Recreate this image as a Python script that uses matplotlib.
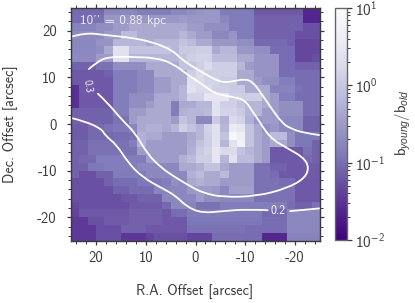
import numpy as np
import matplotlib
matplotlib.use("Agg")
import matplotlib.pyplot as plt
from matplotlib.colors import LogNorm
from matplotlib.cm import ScalarMappable
from matplotlib.path import Path
from matplotlib.patches import PathPatch

plt.rcParams.update({
    'font.family': ['cmss10', 'DejaVu Sans'],
    'axes.unicode_minus': False,
    'mathtext.fontset': 'custom',
    'mathtext.rm': 'cmss10',
    'mathtext.it': 'Liberation Sans:italic',
    'mathtext.bf': 'cmss10',
    'mathtext.fallback': 'cm',
})

ratio_rows = [
 [.09,.09,.09,.09,.18,.18,.18,.18,.14,.14,.14,.14,.18,.18,.22,.26,.28,.28,.13,.13,.13,.13,.065,.065,.065,.065,.065,.065,.023,.023],
 [.098,.098,.11,.11,.28,.28,.28,.28,.28,.28,.28,.28,.28,.32,.28,.28,.28,.28,.18,.13,.13,.13,.079,.079,.079,.079,.079,.079,.023,.023],
 [.16,.16,.16,.22,.22,.32,.32,.45,.45,.45,.45,.45,.45,.45,.32,.32,.22,.22,.22,.13,.13,.13,.079,.079,.079,.079,.079,.079,.056,.056],
 [.195,.195,.195,.195,.32,.32,.72,.72,.45,.45,.45,.45,.45,.63,.45,.32,.32,.18,.18,.26,.13,.13,.079,.079,.079,.079,.079,.056,.056,.056],
 [.18,.18,.18,.26,.26,.63,.63,.63,.63,.45,.63,.63,.63,.89,.72,.45,.45,.28,.28,.28,.22,.22,.09,.09,.09,.09,.079,.046,.046,.046],
 [.18,.18,.18,.22,.45,2.5,2.5,.89,.89,.89,.89,.89,.63,1.1,1.1,1.26,1.26,.45,.63,.63,.28,.28,.22,.22,.098,.098,.098,.046,.046,.046],
 [.195,.195,.195,.32,.32,2.5,2.5,.63,.63,.63,.63,.63,.63,.89,1.26,1.45,1.45,.72,.72,.72,.45,.45,.26,.26,.26,.098,.098,.046,.046,.056],
 [.079,.079,.079,.11,.11,.22,.22,.22,.22,.45,.45,.45,.45,.89,.89,1.26,1.78,1.26,1.26,1.26,.63,.32,.26,.26,.26,.098,.098,.079,.079,.079],
 [.065,.065,.065,.065,.079,.14,.14,.14,.18,.18,.45,.45,.45,.45,1.26,1.78,1.26,1.26,1.26,1.26,.45,.45,.26,.26,.26,.098,.098,.098,.098,.098],
 [.065,.065,.065,.065,.065,.14,.14,.14,.18,.18,.32,.32,.45,.45,2.2,1.78,1.45,1.45,1.1,1.1,.45,.45,.32,.22,.22,.14,.14,.098,.098,.098],
 [.028,.065,.065,.065,.065,.14,.14,.14,.18,.18,.32,.32,.45,.63,2.5,1.78,1.78,1.26,1.26,1.1,1.1,.45,.45,.45,.16,.16,.16,.11,.098,.098],
 [.028,.065,.065,.065,.065,.14,.14,.22,.22,.22,.45,.45,.45,.63,1.45,1.45,2.9,2.9,2.9,1.26,1.26,1.26,1.26,.45,.32,.14,.14,.098,.098,.098],
 [.028,.065,.065,.065,.065,.14,.14,.22,.22,.32,.45,.45,.14,.45,.45,.63,.63,2.5,1.26,1.26,.89,.63,.63,.45,.32,.22,.22,.22,.098,.098],
 [.079,.079,.079,.079,.079,.14,.14,.32,.32,.45,.45,.45,.14,.55,.63,.63,.72,2.5,1.45,1.45,1.1,.63,.63,.32,.32,.22,.22,.22,.098,.098],
 [.079,.079,.079,.079,.079,.11,.11,.32,.45,.45,.45,.45,.32,.89,.63,.18,.18,1.1,.55,1.78,1.45,.55,.28,.32,.32,.18,.18,.18,.079,.079],
 [.069,.069,.09,.09,.11,.12,.12,.18,.45,.55,.55,.45,.63,1.26,.89,.63,1.45,2.5,.63,3.5,2.9,.89,.45,.22,.28,.18,.18,.18,.079,.079],
 [.069,.069,.09,.09,.09,.098,.098,.11,.55,.45,.45,.32,.32,.32,.45,.63,1.26,2.5,.89,7.1,4.4,.89,.45,.32,.72,.72,.22,.12,.12,.12],
 [.079,.079,.11,.11,.11,.11,.11,.14,.55,.32,.32,.32,.32,.32,.5,.89,1.26,2.5,.63,2.5,5.8,.89,.45,.32,.45,.45,.22,.12,.12,.079],
 [.079,.079,.11,.11,.11,.11,.11,.11,.32,.32,.32,.32,.32,.32,.55,1.1,1.45,2.9,1.78,1.78,.89,.63,.45,.32,.065,.065,.065,.065,.11,.079],
 [.079,.09,.09,.14,.14,.14,.14,.14,.14,.32,.32,.32,.32,.55,.72,1.26,1.26,2.9,.63,2.5,.72,.72,.45,.32,.065,.065,.065,.065,.09,.079],
 [.079,.079,.12,.12,.14,.14,.14,.14,.18,.18,.18,.18,.18,.45,.45,.55,.89,.89,.45,.32,.32,.32,.11,.11,.079,.079,.065,.065,.069,.069],
 [.079,.056,.056,.079,.079,.13,.13,.13,.13,.18,.18,.18,.18,.18,.55,.72,.45,.45,.72,.32,.32,.32,.11,.11,.098,.065,.065,.065,.069,.069],
 [.056,.056,.056,.056,.079,.098,.098,.098,.12,.12,.12,.14,.22,.18,.45,.55,.45,.45,.32,.32,.32,.32,.11,.11,.11,.098,.098,.065,.065,.065],
 [.056,.056,.056,.056,.056,.079,.079,.098,.098,.098,.16,.16,.18,.18,.28,.32,.32,.28,.18,.36,.36,.36,.11,.11,.11,.11,.11,.065,.065,.065],
 [.056,.056,.056,.056,.056,.056,.065,.065,.079,.079,.079,.18,.18,.18,.18,.32,.22,.22,.18,.18,.18,.18,.11,.11,.11,.11,.11,.065,.065,.065],
 [.046,.056,.056,.056,.056,.056,.056,.069,.069,.069,.069,.09,.18,.18,.16,.11,.11,.11,.14,.14,.14,.14,.14,.14,.14,.14,.098,.079,.079,.11],
 [.042,.065,.065,.065,.065,.065,.065,.079,.079,.079,.079,.065,.098,.098,.13,.13,.13,.13,.13,.13,.13,.13,.13,.09,.09,.09,.18,.18,.18,.18],
 [.035,.035,.056,.056,.069,.069,.069,.079,.079,.079,.079,.065,.065,.065,.12,.12,.12,.12,.12,.12,.12,.12,.12,.098,.098,.098,.18,.18,.18,.18],
 [.035,.035,.035,.056,.056,.056,.079,.079,.079,.065,.065,.065,.065,.065,.11,.11,.11,.11,.11,.11,.11,.098,.098,.098,.098,.098,.18,.18,.18,.18],
 [.035,.035,.035,.056,.056,.056,.033,.033,.033,.045,.056,.056,.056,.056,.045,.045,.045,.098,.098,.098,.098,.098,.098,.024,.024,.024,.16,.16,.16,.16],
]

c1_x = [25,22.2,18.2,12.75,8.7,4.7,2.7,0.1,-2.3,-4.9,-6.9,-9.9,-11.5,-13,-15,-17.4,-19,-21.6,-25]
c1_y = [18.7,19.6,19.1,18.5,17.6,15.9,13.8,12,10.5,9,9,9.7,9,6.9,3.7,0.2,-0.9,-1.9,-2.4]
c2_x = [21.4,19.8,17.6,12.75,8.1,4.7,1.5,-1.5,-3.9,-7.5,-9.9,-11.5,-12.6,-15,-18.4,-21.6,-22.8,-22,-18.4,-12.3,-5.5,-1.5,1.5,4.7,6.7,9.5,12.1,14.8,17.6,19.6]
c2_y = [11.8,13.3,14.4,14.4,14.2,13.1,10.5,8.4,6.5,5.8,5.2,2.6,0.9,-3,-5.2,-7.1,-9.2,-11.6,-13.8,-15.5,-15.7,-14.8,-13.1,-11,-9.5,-6.7,-1.9,0.9,4.5,6.5]
c3a_x = [25,22.2,18.8,18.2,15.8,13.6,10.7,6.7,4.1,1.7,-1.3,-5.5,-10.3,-14.5]
c3a_y = [1.3,0.6,-1.1,-2.4,-4.5,-8.2,-11.4,-13.8,-15.3,-17.8,-19.1,-18.7,-18.3,-18.5]
c3b_x = [-19,-25]
c3b_y = [-18.7,-18.1]

x_ticks = [20,10,0,-10,-20]
y_ticks = [20,10,0,-10,-20]
x_labels = ['20','10','0','-10','-20']
y_labels = ['20','10','0','-10','-20']
cbar_ticks = [0.01,0.1,1,10]
cbar_labels = [r'$\mathregular{10^{-2}}$',r'$\mathregular{10^{-1}}$',r'$\mathregular{10^{0}}$',r'$\mathregular{10^{1}}$']

DARK = '#3a3a3a'
W, H = 415, 303
fig = plt.figure(figsize=(W/100, H/100), dpi=100)
ax = fig.add_axes([71/W, 1-240.5/H, 249/W, 233/H])
norm = LogNorm(0.01, 10)
edges = np.linspace(25, -25, 31)
ax.pcolormesh(edges, edges, np.array(ratio_rows), cmap='Purples_r', norm=norm, shading='flat', linewidth=0, rasterized=True)
ax.set_xlim(25, -25)
ax.set_ylim(-25, 25)


def smooth_path(xs, ys):
    # quadratic segments through the midpoints, with the read points as control points
    pts = np.column_stack([xs, ys])
    if len(pts) < 3:
        return Path(pts)
    verts = [pts[0]]
    codes = [Path.MOVETO]
    for i in range(1, len(pts) - 1):
        end = pts[-1] if i == len(pts) - 2 else (pts[i] + pts[i + 1]) / 2
        verts += [pts[i], end]
        codes += [Path.CURVE3, Path.CURVE3]
    return Path(verts, codes)


for xs, ys in [(c1_x, c1_y), (c2_x, c2_y), (c3a_x, c3a_y), (c3b_x, c3b_y)]:
    ax.add_patch(PathPatch(smooth_path(xs, ys), fc='none', ec='white', lw=1.3, capstyle='round', joinstyle='round'))

ax.text(23.2, 22.1, "10'' = 0.88 kpc", color='white', alpha=0.85, fontsize=9.5, ha='left', va='center')
ax.text(21.6, 8.2, '0.3', color='white', fontsize=7.5, rotation=-82, ha='center', va='center')
ax.text(-16.6, -18.7, '0.2', color='white', fontsize=8.5, ha='center', va='center')

ax.set_xticks(x_ticks, x_labels)
ax.set_yticks(y_ticks, y_labels)
ax.set_xticks(np.arange(-24, 25, 2), minor=True)
ax.set_yticks(np.arange(-24, 25, 2), minor=True)
ax.tick_params(which='major', direction='out', length=3.2, width=0.9, color=DARK, labelcolor=DARK,
               labelsize=10.5, top=True, right=True)
ax.tick_params(which='minor', direction='out', length=1.9, width=0.7, color=DARK, top=True, right=True)
ax.tick_params(axis='x', which='major', pad=4.3)
ax.tick_params(axis='y', which='major', pad=7)
for s in ax.spines.values():
    s.set_linewidth(1.0)
    s.set_color(DARK)
fig.text(195/W, 1-291.5/H, 'R.A. Offset [arcsec]', color=DARK, fontsize=10.3, ha='center', va='center')
fig.text(10/W, 1-124/H, 'Dec. Offset [arcsec]', color=DARK, fontsize=10.3, ha='center', va='center', rotation=90)

cax = fig.add_axes([335/W, 1-240/H, 12/W, 232/H])
cb = fig.colorbar(ScalarMappable(norm=norm, cmap='Purples_r'), cax=cax)
cb.set_ticks(cbar_ticks, labels=cbar_labels)
cax.tick_params(which='major', length=3.5, width=0.9, color=DARK, labelcolor=DARK, labelsize=11, pad=2.5)
cax.tick_params(which='minor', length=2.2, width=0.7, color=DARK)
cb.outline.set_edgecolor('#666666')
cb.outline.set_linewidth(1.0)
fig.text(403/W, 1-123/H, r'b$_{\mathit{young}}$/b$_{\mathit{old}}$', color=DARK, fontsize=10.5, rotation=90, ha='center', va='center')

fig.savefig('out.png', dpi=100)
